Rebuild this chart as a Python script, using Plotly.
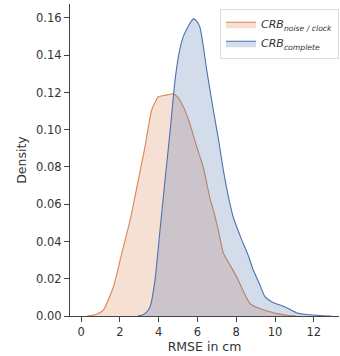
import plotly.graph_objects as go

# CRB noise / clock density estimate
noise_x = [0.3, 0.46, 0.8, 1.15, 1.67, 2.1, 2.53, 2.95, 3.3, 3.64, 3.98, 4.2, 4.42, 4.76, 5.0, 5.27, 5.6, 5.96, 6.3, 6.65, 6.82, 7.1, 7.34, 7.7, 8.03, 8.4, 8.7, 9.2, 9.74, 10.26, 10.7, 11.1]
noise_y = [0.0, 0.0002, 0.001, 0.0032, 0.0157, 0.0337, 0.0515, 0.073, 0.091, 0.1106, 0.1177, 0.1182, 0.1187, 0.1193, 0.1172, 0.1124, 0.1035, 0.091, 0.080, 0.063, 0.057, 0.045, 0.0337, 0.027, 0.021, 0.0125, 0.0068, 0.0040, 0.0023, 0.0010, 0.0003, 0.0]

# CRB complete density estimate
comp_x = [2.9, 3.13, 3.35, 3.56, 3.81, 4.07, 4.33, 4.59, 4.85, 5.05, 5.27, 5.55, 5.79, 5.95, 6.13, 6.3, 6.48, 6.82, 7.1, 7.34, 7.6, 7.85, 8.28, 8.6, 8.88, 9.2, 9.48, 9.8, 10.09, 10.3, 10.5, 10.8, 11.1, 11.5, 11.98, 12.5, 12.9]
comp_y = [0.0, 0.0004, 0.0018, 0.005, 0.019, 0.046, 0.073, 0.099, 0.127, 0.141, 0.150, 0.156, 0.1595, 0.1585, 0.155, 0.145, 0.132, 0.1106, 0.094, 0.078, 0.064, 0.053, 0.041, 0.033, 0.0247, 0.0172, 0.0104, 0.0078, 0.0064, 0.0058, 0.005, 0.0034, 0.0018, 0.0009, 0.0005, 0.0001, 0.0]

x_ticks = [0, 2, 4, 6, 8, 10, 12]
y_ticks = [0.00, 0.02, 0.04, 0.06, 0.08, 0.10, 0.12, 0.14, 0.16]

orange = "#dd8452"
blue = "#4c72b0"

fig = go.Figure()
fig.add_trace(go.Scatter(
    x=noise_x, y=noise_y, mode="lines", line=dict(color=orange, width=1.1, shape="spline", smoothing=0.5),
    fill="tozeroy", fillcolor="rgba(221,132,82,0.25)",
    name="<i>CRB<sub>noise / clock</sub></i>"))
fig.add_trace(go.Scatter(
    x=comp_x, y=comp_y, mode="lines", line=dict(color=blue, width=1.1, shape="spline", smoothing=0.5),
    fill="tozeroy", fillcolor="rgba(76,114,176,0.25)",
    name="<i>CRB<sub>complete</sub></i>"))

axis_common = dict(showline=True, linecolor="#444444", linewidth=1.3, ticks="outside",
                   ticklen=5, tickwidth=1.1, tickcolor="#444444", showgrid=False, zeroline=False,
                   tickfont=dict(size=11.5, color="#333333"))

fig.update_layout(
    width=340, height=356,
    margin=dict(l=70, r=1, t=4, b=40),
    paper_bgcolor="white", plot_bgcolor="white",
    font=dict(family="DejaVu Sans", color="#333333"),
    xaxis=dict(range=[-0.57, 13.3], tickvals=x_ticks, ticktext=[str(v) for v in x_ticks],
               title=dict(text="RMSE in cm", font=dict(size=12.5), standoff=4), **axis_common),
    yaxis=dict(range=[0, 0.1675], tickvals=y_ticks, ticktext=["%.2f" % v for v in y_ticks],
               title=dict(text="Density", font=dict(size=12.5), standoff=6), **axis_common),
    legend=dict(x=1.0, xanchor="right", y=0.985, yanchor="top", bgcolor="rgba(255,255,255,0.8)",
                bordercolor="#dddddd", borderwidth=1, font=dict(size=11, color="#333333"),
                tracegroupgap=6, itemwidth=30),
    showlegend=True,
)

fig.write_html("out.html", config={"displayModeBar": False},
               post_script="document.body.style.margin='0';document.body.style.overflow='hidden';")
